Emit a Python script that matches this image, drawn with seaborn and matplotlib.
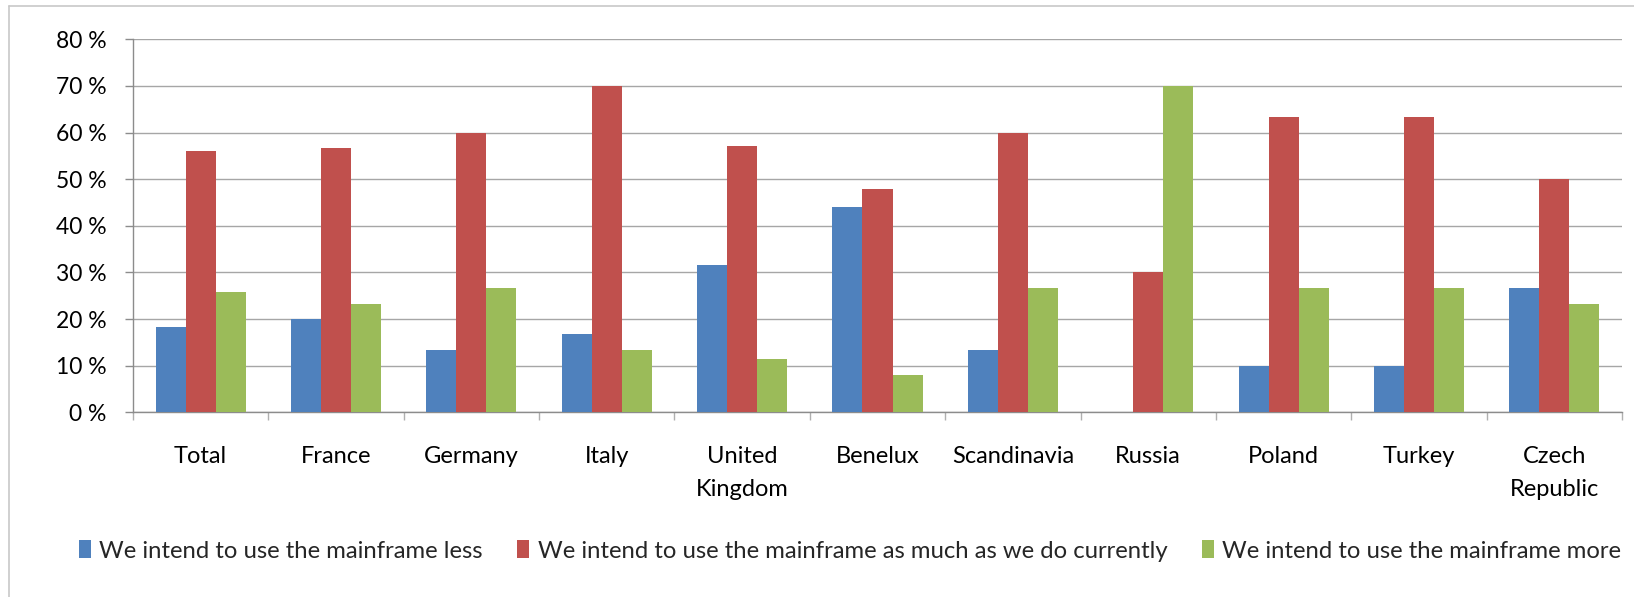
import numpy as np
import pandas as pd
import matplotlib
matplotlib.use("Agg")
import matplotlib.pyplot as plt
from matplotlib.patches import Patch
from matplotlib.lines import Line2D
import seaborn as sns

regions = ["Total", "France", "Germany", "Italy", "United\nKingdom", "Benelux",
           "Scandinavia", "Russia", "Poland", "Turkey", "Czech\nRepublic"]
less = [18.3, 20.0, 13.3, 16.7, 31.5, 44.0, 13.3, 0.0, 10.0, 10.0, 26.7]
same = [56.0, 56.7, 60.0, 70.0, 57.1, 48.0, 60.0, 30.0, 63.3, 63.3, 50.0]
more = [25.7, 23.3, 26.7, 13.3, 11.4, 8.0, 26.7, 70.0, 26.7, 26.7, 23.3]
series_names = ["We intend to use the mainframe less",
                "We intend to use the mainframe as much as we do currently",
                "We intend to use the mainframe more"]
colors = ["#4F81BD", "#C0504D", "#9BBB59"]
y_ticks = [0, 10, 20, 30, 40, 50, 60, 70, 80]

df = pd.DataFrame({
    "region": regions * 3,
    "value": less + same + more,
    "series": [series_names[0]] * len(regions) + [series_names[1]] * len(regions)
              + [series_names[2]] * len(regions),
})

sns.set_theme(style="white")
plt.rcParams["font.family"] = ["Lato", "DejaVu Sans"]

W, H = 1634, 597
fig = plt.figure(figsize=(W / 100, H / 100), dpi=100)
ax = fig.add_axes([133 / W, 1 - 412.3 / H, (1622 - 133) / W, (412.3 - 39.3) / H])

sns.barplot(data=df, x="region", y="value", hue="series", order=regions,
            hue_order=series_names, palette=colors, width=0.665, ax=ax,
            legend=False, saturation=1, linewidth=0, zorder=3)

ax.set_ylim(0, 80)
ax.set_xlim(-0.5, len(regions) - 0.5)
ax.set_yticks(y_ticks)
ax.set_yticklabels([f"{t} %" for t in y_ticks])
ax.set_xticks(range(len(regions)))
ax.set_xticklabels(regions, linespacing=1.75)
ax.yaxis.grid(True, color="#a6a6a6", linewidth=1.0, zorder=0)
ax.set_axisbelow(True)
ax.set_xlabel("")
ax.set_ylabel("")

for side in ["top", "right"]:
    ax.spines[side].set_visible(False)
for side in ["left", "bottom"]:
    ax.spines[side].set_color("#8c8c8c")
    ax.spines[side].set_linewidth(1.0)

ax.tick_params(axis="y", which="major", direction="out", length=6, width=1.0,
               color="#8c8c8c", pad=13, labelsize=16.5, labelcolor="black", left=True)
ax.set_xticks(np.arange(-0.5, len(regions), 1), minor=True)
ax.tick_params(axis="x", which="major", length=0, pad=24, labelsize=17,
               labelcolor="black")
ax.tick_params(axis="x", which="minor", direction="out", length=6, width=1.0,
               color="#b0b0b0", bottom=True)

# chart frame
fig.add_artist(Line2D([9 / W, 9 / W], [0, 1 - 6 / H], transform=fig.transFigure,
                      color="#c8c8c8", linewidth=1.2))
fig.add_artist(Line2D([9 / W, 1], [1 - 6 / H, 1 - 6 / H], transform=fig.transFigure,
                      color="#c8c8c8", linewidth=1.2))

handles = [Patch(facecolor=c, edgecolor="none", label=n) for c, n in zip(colors, series_names)]
fig.legend(handles=handles, loc="center", bbox_to_anchor=(850 / W, 1 - 551 / H),
           ncol=3, frameon=False, fontsize=17.2, handlelength=0.5, handleheight=0.75,
           handletextpad=0.35, columnspacing=1.45, borderaxespad=0)

fig.savefig("out.png", dpi=100, facecolor="white")
